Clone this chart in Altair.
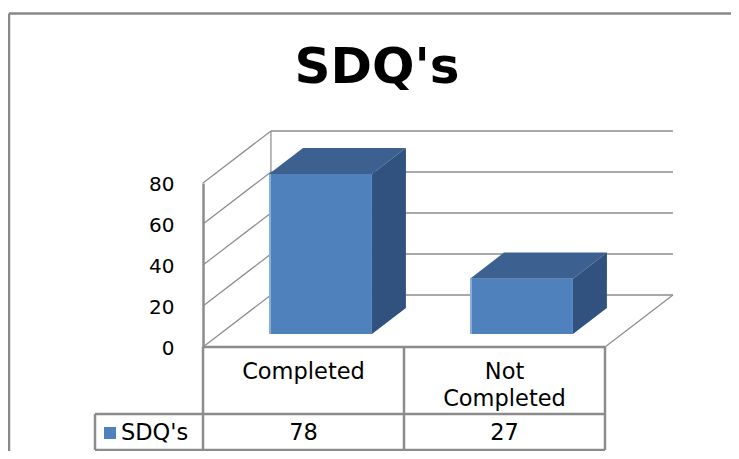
import altair as alt
import pandas as pd

# ---- data ----
series_name = "SDQ's"
categories = ["Completed", "Not Completed"]
values = [78, 27]
y_ticks = [0, 20, 40, 60, 80]

# ---- 3D projection parameters (in data units) ----
DX = 0.338    # full floor depth, horizontal shift (category units)
DY = 25.4     # full floor depth, vertical shift (value units)
T0, T1 = 0.25, 0.75   # bar front / back depth fraction
HW = 0.256    # half bar width (category units)

FRONT = "#4F81BD"
TOP = "#3C6191"
SIDE = "#31527E"
GRID = "#8C8C8C"
FONT = "DejaVu Sans"
TFS = 22.5  # table font size

xs = alt.Scale(domain=[0, 2], nice=False, zero=False)
ys = alt.Scale(domain=[0, 80], nice=False, zero=True)
YAX = alt.Axis(values=y_ticks, ticks=False, grid=False, domain=True,
               domainColor=GRID, domainWidth=2.5, labelPadding=29,
               labelFontSize=20, labelFont=FONT, labelColor="#000",
               labelOffset=1.5, title=None)

# bars tables
front_rows, top_rows, side_rows, table_rows = [], [], [], []
for i, (cat, v) in enumerate(zip(categories, values)):
    c = i + 0.5
    front_rows.append(dict(cat=cat, x=c - HW + T0 * DX, x2=c + HW + T0 * DX,
                           y=T0 * DY, y2=v + T0 * DY))
    for t in (T0, T1):
        top_rows.append(dict(cat=cat, y=v + t * DY, x=c - HW + t * DX, x2=c + HW + t * DX))
        side_rows.append(dict(cat=cat, x=c + HW + t * DX, y=t * DY, y2=v + t * DY))
    table_rows.append(dict(cat=cat, c=c, v=v))

front_df = pd.DataFrame(front_rows)
top_df = pd.DataFrame(top_rows)
side_df = pd.DataFrame(side_rows)
table_df = pd.DataFrame(table_rows)

# walls / grid
left_diag = pd.DataFrame([dict(x=0, x2=DX, y=t, y2=t + DY) for t in y_ticks])
back_h = pd.DataFrame([dict(x=DX, x2=2 + DX, y=t + DY) for t in y_ticks])
misc = pd.DataFrame([
    dict(x=DX, x2=DX, y=DY, y2=80 + DY),      # back edge of left wall
    dict(x=2, x2=2 + DX, y=0, y2=DY),         # right edge of floor
])


def X(f="x"):
    return alt.X(f"{f}:Q", scale=xs, axis=None)


def Y(f="y"):
    return alt.Y(f"{f}:Q", scale=ys, axis=YAX)


left_lines = alt.Chart(left_diag).mark_rule(color=GRID, strokeWidth=1.2, clip=False).encode(
    x=X(), x2="x2:Q", y=Y(), y2="y2:Q")
back_lines = alt.Chart(back_h).mark_rule(color=GRID, strokeWidth=1.5, clip=False).encode(
    x=X(), x2="x2:Q", y=Y())
misc_lines = alt.Chart(misc).mark_rule(color=GRID, strokeWidth=1.2, clip=False).encode(
    x=X(), x2="x2:Q", y=Y(), y2="y2:Q")

floor_front = alt.Chart(pd.DataFrame({"a": [0]})).mark_rule(color=GRID, strokeWidth=2.5, clip=False).encode(
    x=alt.X(datum=0, type="quantitative", scale=xs, axis=None),
    x2=alt.X2(datum=2),
    y=alt.Y(datum=0, type="quantitative", scale=ys, axis=YAX))

top_face = alt.Chart(top_df).mark_area(orient="horizontal", color=TOP, clip=False).encode(
    y=Y(), x=X(), x2="x2:Q", detail="cat:N")
side_face = alt.Chart(side_df).mark_area(orient="vertical", color=SIDE, clip=False).encode(
    x=X(), y=Y(), y2="y2:Q", detail="cat:N")
front_face = alt.Chart(front_df).mark_rect(color=FRONT, clip=False).encode(
    x=X(), x2="x2:Q", y=Y(), y2="y2:Q")
front_edge = alt.Chart(front_df).mark_rule(color="#8DAEDB", strokeWidth=2, clip=False).encode(
    x=X(), y=Y(), y2="y2:Q", xOffset=alt.value(1))

# data table
TABLE_LEFT = -108
ROW_Y = 231
BOTTOM_Y = 267
col_lines = alt.Chart(pd.DataFrame({"b": [0, 1, 2]})).mark_rule(color=GRID, strokeWidth=2.5, clip=False).encode(
    x=alt.X("b:Q", scale=xs, axis=None),
    y=alt.Y(datum=0, type="quantitative", scale=ys, axis=YAX),
    y2=alt.value(BOTTOM_Y))
row_lines = alt.Chart(pd.DataFrame({"r": [ROW_Y, BOTTOM_Y]})).mark_rule(color=GRID, strokeWidth=2.5, clip=False).encode(
    x=alt.X(datum=2, type="quantitative", scale=xs, axis=None),
    x2=alt.value(TABLE_LEFT),
    y=alt.Y("r:Q", scale=None, axis=None))
table_left = alt.Chart(pd.DataFrame({"a": [0]})).mark_rule(color=GRID, strokeWidth=2.5, clip=False).encode(
    x=alt.value(TABLE_LEFT), y=alt.value(ROW_Y), y2=alt.value(BOTTOM_Y))

header = alt.Chart(table_df).mark_text(fontSize=TFS, font=FONT, baseline="top", align="center",
                                       lineBreak=" ", lineHeight=27, color="#000", clip=False).encode(
    x=alt.X("c:Q", scale=xs, axis=None), y=alt.value(178), text="cat:N")
row_vals = alt.Chart(table_df).mark_text(fontSize=TFS, font=FONT, baseline="middle", align="center",
                                         color="#000", clip=False).encode(
    x=alt.X("c:Q", scale=xs, axis=None), y=alt.value(250), text="v:Q")

legend_sq = alt.Chart(pd.DataFrame({"s": [series_name]})).mark_square(size=144, color=FRONT, opacity=1, clip=False).encode(
    x=alt.value(-93), y=alt.value(250))
legend_txt = alt.Chart(pd.DataFrame({"s": [series_name]})).mark_text(fontSize=TFS, font=FONT, align="left",
                                                                    baseline="middle", color="#000", clip=False).encode(
    x=alt.value(-82), y=alt.value(250), text="s:N")

title_txt = alt.Chart(pd.DataFrame({"s": [series_name]})).mark_text(fontSize=50, font=FONT, fontWeight="bold",
                                                                   align="center", baseline="alphabetic",
                                                                   color="#000", clip=False).encode(
    x=alt.value(174), y=alt.value(-100), text="s:N")

# outer chart frame
frame_top = alt.Chart(pd.DataFrame({"a": [0]})).mark_rule(color="#888888", strokeWidth=2.5, clip=False).encode(
    x=alt.value(-194), x2=alt.value(530), y=alt.value(-169.5))
frame_left = alt.Chart(pd.DataFrame({"a": [0]})).mark_rule(color="#888888", strokeWidth=2.5, clip=False).encode(
    x=alt.value(-194), y=alt.value(-169.5), y2=alt.value(275))

chart = alt.layer(
    left_lines, back_lines, misc_lines,
    frame_top, frame_left,
    top_face, side_face, front_face, front_edge,
    col_lines, row_lines, table_left, floor_front,
    header, row_vals, legend_sq, legend_txt, title_txt,
).properties(
    width=402, height=164,
    padding={"left": 195, "top": 175, "right": 126, "bottom": 104},
    autosize=alt.AutoSizeParams(type="none"),
    background="white",
).configure_view(stroke=None)

chart.save("out.html", embed_options={"renderer": "svg", "actions": False})
